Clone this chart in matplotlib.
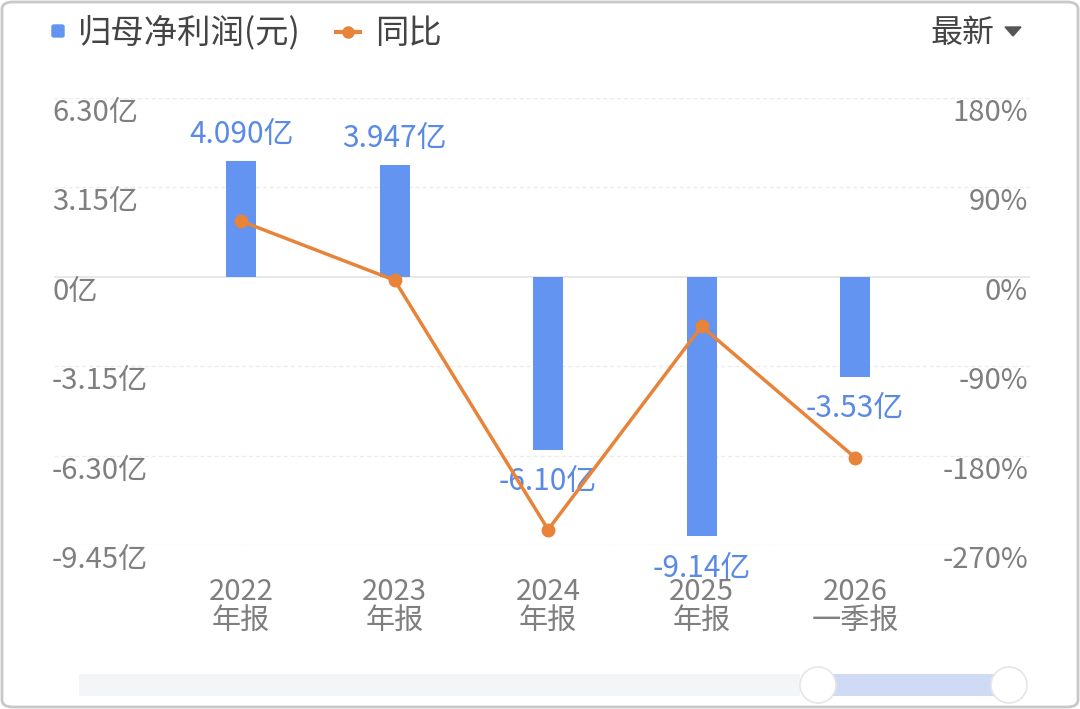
import matplotlib
matplotlib.use("Agg")
import matplotlib.pyplot as plt
import matplotlib.transforms as mtransforms
from matplotlib.patches import Rectangle, Ellipse, FancyBboxPatch, Polygon
from matplotlib.lines import Line2D

plt.rcParams['font.family'] = ['Noto Sans CJK SC', 'DejaVu Sans']

# 数据
periods = ["2022\n年报", "2023\n年报", "2024\n年报", "2025\n年报", "2026\n一季报"]
profit = [4.090, 3.947, -6.10, -9.14, -3.53]          # 亿元
profit_labels = ["4.090亿", "3.947亿", "-6.10亿", "-9.14亿", "-3.53亿"]
yoy = [56.0, -3.5, -254.5, -49.8, -182.0]              # %
left_ticks = [-9.45, -6.30, -3.15, 0, 3.15, 6.30]
left_tick_labels = ["-9.45亿", "-6.30亿", "-3.15亿", "0亿", "3.15亿", "6.30亿"]
right_ticks = [-270, -180, -90, 0, 90, 180]
right_tick_labels = ["-270%", "-180%", "-90%", "0%", "90%", "180%"]

BLUE = '#6394f2'
BLUE_TXT = '#5a8ae6'
ORANGE = '#e8833a'
GREY_TXT = '#7f7f7f'

W, H = 1080, 709
fig = plt.figure(figsize=(W / 100, H / 100), dpi=100)
fig.patch.set_facecolor('white')

def fx(px):
    return px / W

def fy(py):
    return 1 - py / H

ax = fig.add_axes([fx(54), fy(545), fx(1030) - fx(54), fy(98) - fy(545)])
ax2 = ax.twinx()
ax.set_zorder(1)
ax2.set_zorder(2)
ax.patch.set_visible(False)
ax2.patch.set_visible(False)

x = list(range(len(periods)))
ax.set_xlim(-1.22, 5.14)
ax.set_ylim(left_ticks[0], left_ticks[-1])
ax2.set_ylim(right_ticks[0], right_ticks[-1])

# 网格线
for t in left_ticks:
    if t == 0:
        ax.axhline(t, color='#e4e4e4', lw=1.2, zorder=0)
    else:
        ax.axhline(t, color='#ececec', lw=1.0, ls=(0, (3, 2)), zorder=0)

ax.bar(x, profit, width=0.195, color=BLUE, zorder=2)
ax2.plot(x, yoy, color=ORANGE, lw=2.5, marker='o', markersize=9, zorder=3)

for s in list(ax.spines.values()) + list(ax2.spines.values()):
    s.set_visible(False)
ax.set_yticks([])
ax2.set_yticks([])
ax.set_xticks(x)
ax.set_xticklabels(periods, fontsize=21, color=GREY_TXT, linespacing=0.95)
ax.tick_params(axis='x', length=0, pad=23)

# 左右刻度标签
off = mtransforms.offset_copy(ax.transData, fig=fig, x=0, y=-15, units='dots')
left_tr = mtransforms.blended_transform_factory(fig.transFigure, off)
for t, lab in zip(left_ticks, left_tick_labels):
    ax.text(fx(52), t, lab, transform=left_tr, fontsize=21, color=GREY_TXT,
            ha='left', va='center')
off2 = mtransforms.offset_copy(ax2.transData, fig=fig, x=0, y=-15, units='dots')
right_tr = mtransforms.blended_transform_factory(fig.transFigure, off2)
for t, lab in zip(right_ticks, right_tick_labels):
    ax2.text(fx(1028), t, lab, transform=right_tr, fontsize=21, color=GREY_TXT,
             ha='right', va='center')

# 数据标签
for xi, v, lab in zip(x, profit, profit_labels):
    dy = 26 if v > 0 else -32
    tr = mtransforms.offset_copy(ax.transData, fig=fig, x=0, y=dy, units='dots')
    ax.text(xi, v, lab, transform=tr, fontsize=21.5, color=BLUE_TXT,
            ha='center', va='center', zorder=5)

# 图例
fig.add_artist(FancyBboxPatch((fx(52), fy(37)), fx(12), fy(25) - fy(37),
                              boxstyle='round,pad=0,rounding_size=0.002',
                              transform=fig.transFigure, color=BLUE))
fig.text(fx(78), fy(33), "归母净利润(元)", fontsize=24, color='#444444',
         ha='left', va='center')
fig.add_artist(Line2D([fx(336), fx(360)], [fy(32), fy(32)], color=ORANGE, lw=3,
                      transform=fig.transFigure))
fig.add_artist(Line2D([fx(348)], [fy(32)], color=ORANGE, marker='o', markersize=8,
                      transform=fig.transFigure))
fig.text(fx(375), fy(33), "同比", fontsize=24, color='#444444', ha='left', va='center')
fig.text(fx(930), fy(33), "最新", fontsize=23, color='#444444', ha='left', va='center')
fig.add_artist(Polygon([[fx(1005), fy(27)], [fx(1021), fy(27)], [fx(1013), fy(36)]],
                       closed=True, color='#555555', transform=fig.transFigure))

# 底部滑块
fig.add_artist(Rectangle((fx(79), fy(696)), fx(800) - fx(79), fy(674) - fy(696),
                         color='#f4f5f7', transform=fig.transFigure, lw=0))
fig.add_artist(Rectangle((fx(820), fy(696)), fx(1005) - fx(820), fy(674) - fy(696),
                         color='#cfdaf5', transform=fig.transFigure, lw=0))
for cx in (818, 1009):
    fig.add_artist(Ellipse((fx(cx), fy(685)), fx(36), fy(0) - fy(36),
                           facecolor='white', edgecolor='#e6e6e6', lw=1.2,
                           transform=fig.transFigure))

# 外框
fig.add_artist(FancyBboxPatch((fx(2), fy(707)), fx(1076), fy(2) - fy(707),
                              boxstyle='round,pad=0,rounding_size=0.01',
                              facecolor='none', edgecolor='#c8c8c8', lw=2,
                              transform=fig.transFigure))

fig.savefig("out.png", dpi=100, facecolor='white')
